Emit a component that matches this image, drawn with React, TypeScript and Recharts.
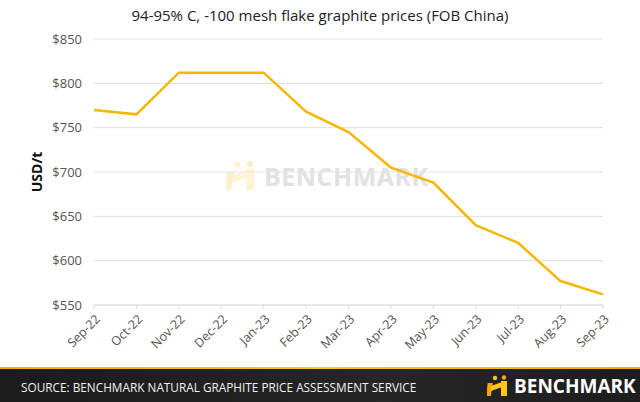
import React from 'react';
import { LineChart, Line, XAxis, YAxis, CartesianGrid } from 'recharts';

const months = ['Sep-22', 'Oct-22', 'Nov-22', 'Dec-22', 'Jan-23', 'Feb-23', 'Mar-23', 'Apr-23', 'May-23', 'Jun-23', 'Jul-23', 'Aug-23', 'Sep-23'];
const prices = [770, 765, 812, 812, 812, 768, 745, 705, 688, 640, 620, 577, 562];
const yTicks = [550, 600, 650, 700, 750, 800, 850];

const chartData = months.map((month, i) => ({ month, price: prices[i] }));

const FONT = '"Open Sans", "DejaVu Sans", sans-serif';
const YELLOW = '#f5b800';

const MonthTick = (props: any) => {
    const { x, y, payload } = props;
    return (
        <g transform={`translate(${x + 4},${y + 6}) rotate(-45)`}>
            <text textAnchor="end" fontSize={12.5} fill="#555" fontFamily={FONT} dy={4}>
                {payload.value}
            </text>
        </g>
    );
};

const LogoIcon: React.FC<{ size: number; opacity?: number }> = ({ size, opacity = 1 }) => (
    <svg width={size} height={size} viewBox="0 0 24 24" style={{ opacity }}>
        <rect x="2" y="9" width="5" height="13" fill="#f7a600" transform="skewX(-8)" />
        <polygon points="4,12 15,8 15,13 4,17" fill="#ffc61a" />
        <rect x="14" y="7" width="6" height="15" fill="#ffc61a" />
        <circle cx="8" cy="4" r="2.2" fill="#ffc61a" />
        <circle cx="17" cy="3.5" r="2.2" fill="#f7a600" />
    </svg>
);

const App: React.FC = () => {
    return (
        <div style={{ position: 'fixed', top: 0, left: 0, width: 640, height: 402, background: '#fff', overflow: 'hidden', fontFamily: FONT }}>
            <div style={{ position: 'absolute', top: 5, left: 0, width: 640, textAlign: 'center', fontSize: 15, color: '#222' }}>
                94-95% C, -100 mesh flake graphite prices (FOB China)
            </div>

            {/* watermark */}
            <div style={{ position: 'absolute', left: 226, top: 159, display: 'flex', alignItems: 'center', gap: 4 }}>
                <LogoIcon size={34} opacity={0.18} />
                <span style={{ fontSize: 25, fontWeight: 700, color: '#e2e2e2', letterSpacing: 0.5 }}>BENCHMARK</span>
            </div>

            <div style={{ position: 'absolute', left: 36, top: 172, transform: 'translate(-50%,-50%) rotate(-90deg)', fontSize: 14, fontWeight: 700, color: '#111' }}>
                USD/t
            </div>

            <div style={{ position: 'absolute', top: 0, left: 0 }}>
                <LineChart width={640} height={368} data={chartData} margin={{ top: 39, right: 37, bottom: 0, left: 0 }}>
                    <CartesianGrid vertical={false} stroke="#e4e4e4" strokeWidth={1.2} />
                    <XAxis
                        dataKey="month"
                        interval={0}
                        height={63}
                        tick={<MonthTick />}
                        tickLine={{ stroke: '#ddd' }}
                        tickSize={4}
                        axisLine={{ stroke: '#ddd' }}
                    />
                    <YAxis
                        domain={[550, 850]}
                        ticks={yTicks}
                        width={94}
                        axisLine={false}
                        tickLine={false}
                        tickSize={0}
                        tickMargin={12}
                        tickFormatter={(v: number) => `$${v}`}
                        tick={{ fontSize: 13, fill: '#555', fontFamily: FONT }}
                    />
                    <Line
                        type="linear"
                        dataKey="price"
                        stroke={YELLOW}
                        strokeWidth={2.5}
                        dot={false}
                        isAnimationActive={false}
                    />
                </LineChart>
            </div>

            {/* footer */}
            <div style={{ position: 'absolute', left: 0, top: 367, width: 640, height: 2, background: 'linear-gradient(90deg, #f0b000, #ffc61a 50%, #f0b000)' }} />
            <div style={{ position: 'absolute', left: 0, top: 369, width: 640, height: 33, background: 'linear-gradient(90deg, #1b1b1b, #262626 60%, #1d1d1d)' }}>
                <div style={{ position: 'absolute', left: 21, top: 10, fontSize: 11.8, color: '#f2f2f2' }}>
                    SOURCE: BENCHMARK NATURAL GRAPHITE PRICE ASSESSMENT SERVICE
                </div>
                <div style={{ position: 'absolute', left: 487, top: 4, display: 'flex', alignItems: 'center', gap: 3 }}>
                    <LogoIcon size={24} />
                    <span style={{ fontSize: 19, fontWeight: 700, color: '#fff' }}>BENCHMARK</span>
                </div>
            </div>
        </div>
    );
};

export default App;
